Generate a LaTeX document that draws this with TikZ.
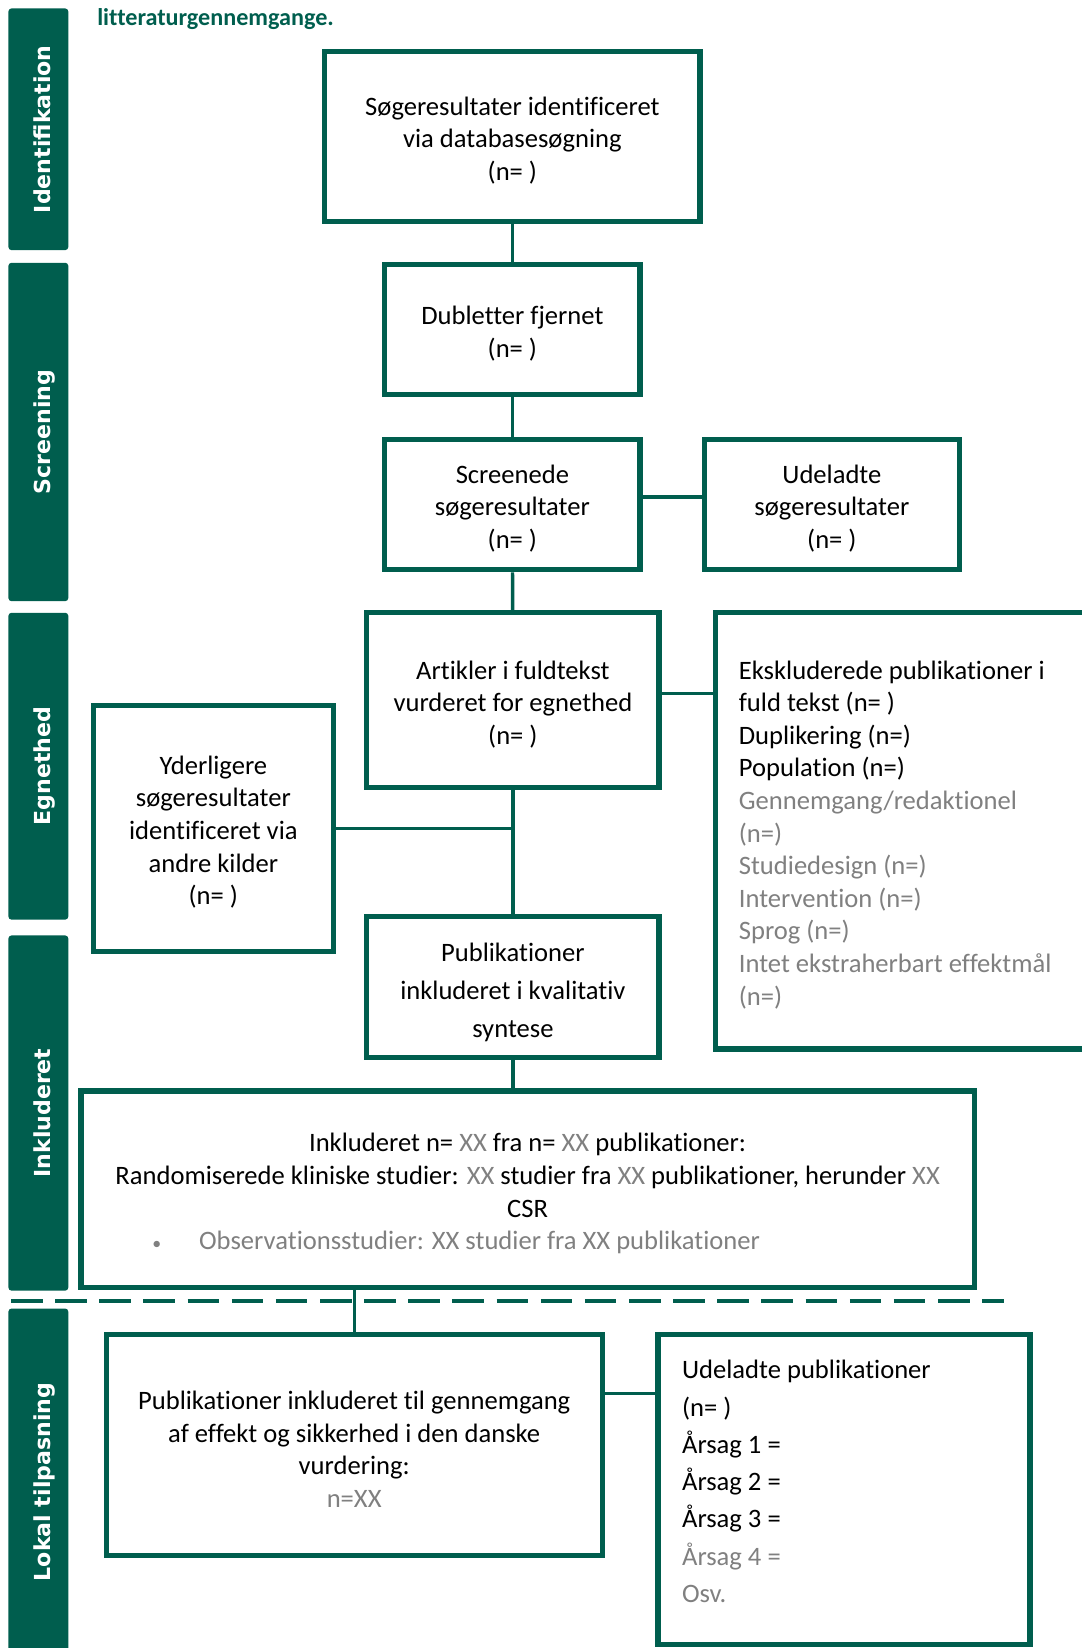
\documentclass[tikz,border=0pt]{standalone}
\usepackage{fontspec}
\setmainfont{Carlito}[Ligatures=NoCommon]
\newfontfamily\barfont{DejaVu Sans}
\definecolor{dkgreen}{RGB}{0,94,78}
\definecolor{txtgray}{RGB}{128,128,128}
\tikzset{
  phase/.style={fill=dkgreen, rounded corners=3pt, text=white, rotate=90, minimum height=57pt, inner sep=0pt,
    text height=24pt, text depth=0pt, font=\barfont\bfseries\fontsize{21}{24}\selectfont},
  box/.style={draw=dkgreen, line width=5pt, fill=white, align=center, inner sep=0pt,
    font=\fontsize{25.3}{31}\selectfont},
  link/.style={draw=dkgreen, line width=3.2pt},
}
\newcommand{\gr}[1]{\textcolor{txtgray}{#1}}
\newcommand{\boxstrut}[1][25pt]{\rule{0pt}{#1}}
\begin{document}
\begin{tikzpicture}[x=1pt,y=-1pt]
\useasboundingbox (0,0) rectangle (1029,1568);
    % phases
    \node[phase, minimum width=230pt] (idbar) at (36.5,123) {Identifikation};
    \node[phase, minimum width=322pt] (scbar) at (36.5,411) {Screening};
    \node[phase, minimum width=292pt] (egbar) at (36.5,729) {Egnethed};
    \node[phase, minimum width=338pt] (inbar) at (36.5,1059) {Inkluderet};
    \node[phase, minimum width=330pt] (lkbar) at (36.5,1410) {Lokal tilpasning};
    \node[anchor=base west, text=dkgreen, font=\bfseries\fontsize{23}{27}\selectfont] (title) at (89,24) {litteraturgennemgange.};
    % boxes
    \node[box, minimum width=357pt, minimum height=162pt] (b1) at (487.5,130) {\boxstrut Søgeresultater identificeret\\via databasesøgning\\(n= )};
    \node[box, minimum width=243pt, minimum height=123pt] (b2) at (487.5,313.5) {\boxstrut Dubletter fjernet\\(n= )};
    \node[box, minimum width=243pt, minimum height=124pt] (b3) at (487.5,480) {\boxstrut Screenede\\søgeresultater\\(n= )};
    \node[box, minimum width=243pt, minimum height=124pt] (b4) at (791.5,480) {\boxstrut Udeladte\\søgeresultater\\(n= )};
    \node[box, minimum width=278pt, minimum height=166pt] (b5) at (488,666) {\boxstrut[26pt]Artikler i fuldtekst\\vurderet for egnethed\\(n= )};
    \node[box, minimum width=364pt, minimum height=415pt, text width=320pt, align=flush left] (b6) at (863,790.5) {\boxstrut Ekskluderede publikationer i\\fuld tekst (n= )\\Duplikering (n=)\\Population (n=)\\\gr{Gennemgang/redaktionel}\\\gr{(n=)}\\\gr{Studiedesign (n=)}\\\gr{Intervention (n=)}\\\gr{Sprog (n=)}\\\gr{Intet ekstraherbart effektmål}\\\gr{(n=)}};
    \node[box, minimum width=228pt, minimum height=234pt] (b7) at (203,788) {\boxstrut Yderligere\\søgeresultater\\identificeret via\\andre kilder\\(n= )};
    \node[box, minimum width=278pt, minimum height=134pt, font=\fontsize{25.3}{36}\selectfont] (b8) at (488,939) {\boxstrut[28pt]Publikationer\\inkluderet i kvalitativ\\syntese};
    \node[box, minimum width=850pt, minimum height=187pt] (b9) at (502,1131.5) {\boxstrut[26pt]Inkluderet n= \gr{XX} fra n= \gr{XX} publikationer:\\Randomiserede kliniske studier: \gr{XX} studier fra \gr{XX} publikationer, herunder \gr{XX}\\CSR\\\makebox[714pt][l]{\gr{{\fontsize{17}{17}\selectfont\textbullet}\hspace{36pt}Observationsstudier: XX studier fra XX publikationer}}};
    \node[box, minimum width=472pt, minimum height=210pt] (b10) at (337,1375) {\boxstrut Publikationer inkluderet til gennemgang\\af effekt og sikkerhed i den danske\\vurdering:\\\gr{n=XX}};
    \node[box, minimum width=354pt, minimum height=295pt, text width=308pt, align=flush left, font=\fontsize{25.3}{35.5}\selectfont] (b11) at (803,1417.5) {Udeladte publikationer\\(n= )\\Årsag 1 =\\Årsag 2 =\\Årsag 3 =\\\gr{Årsag 4 =}\\\gr{Osv.}\rule[-16pt]{0pt}{1pt}};
    % links
    \draw[link] (b1) -- (b2);
    \draw[link] (b2) -- (b3);
    \coordinate (c34) at ([yshift=7pt]b3.east);
    \draw[link] (c34) -- (c34 -| b4.west);
    \draw[link] (b3) -- (b5);
    \coordinate (c56) at ([yshift=6pt]b5.east);
    \draw[link] (c56) -- (c56 -| b6.west);
    \draw[link] (b5) -- (b8);
    \draw[link] (b7.east) -- (b7.east -| b5.south);
    \draw[link] (b8.south) -- (b8.south |- b9.north);
    \draw[link] (b10.north) -- (b10.north |- b9.south);
    \coordinate (c1011) at ([yshift=49pt]b10.east);
    \draw[link] (c1011) -- (c1011 -| b11.west);
    % separator
    \coordinate (sepA) at (10.5,1238);
    \coordinate (sepB) at (955,1238);
    \draw[dkgreen, line width=3.5pt, dash pattern=on 30pt off 12pt] (sepA) -- (sepB);
\end{tikzpicture}
\end{document}
